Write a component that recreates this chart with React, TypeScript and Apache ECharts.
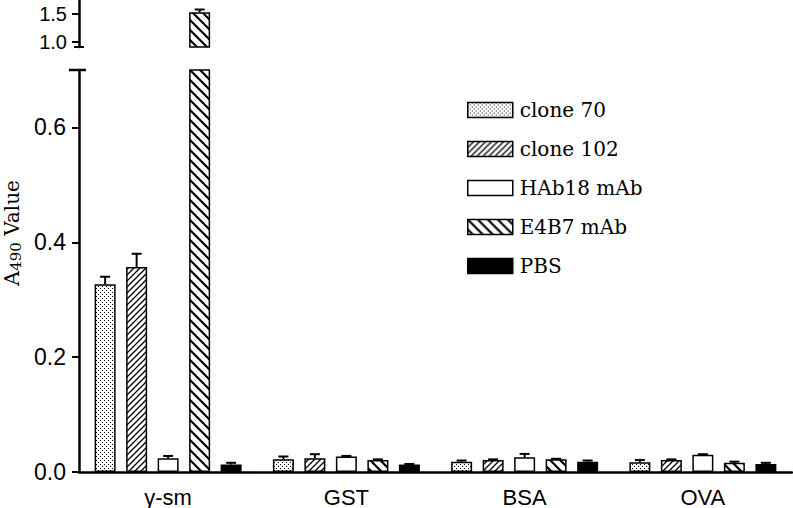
import React, { useEffect, useRef } from "react";
import * as echarts from "echarts";

const categories = ["γ-sm", "GST", "BSA", "OVA"];
const seriesNames = ["clone 70", "clone 102", "HAb18 mAb", "E4B7 mAb", "PBS"];
const clone70 = [0.327, 0.022, 0.018, 0.017];
const clone70Err = [0.013, 0.005, 0.002, 0.004];
const clone102 = [0.357, 0.024, 0.021, 0.021];
const clone102Err = [0.023, 0.007, 0.001, 0.001];
const hab18 = [0.024, 0.027, 0.0255, 0.03];
const hab18Err = [0.004, 0.001, 0.006, 0.001];
const e4b7 = [1.53, 0.021, 0.022, 0.016];
const e4b7Err = [0.05, 0.001, 0.001, 0.002];
const pbs = [0.013, 0.013, 0.018, 0.014];
const pbsErr = [0.003, 0.001, 0.002, 0.002];
const lowerTicks = [0, 0.2, 0.4, 0.6];
const upperTicks = [1.0, 1.5];

const means = [clone70, clone102, hab18, e4b7, pbs];
const errs = [clone70Err, clone102Err, hab18Err, e4b7Err, pbsErr];

const LOWER_MAX = 0.7;
const UPPER_MIN = 0.91;
const UPPER_MAX = 1.75;
const BAR_W = 21;
const BAR_STEP = BAR_W * 1.5;
const GRID_LEFT = 79;
const LOWER_TOP = 70;
const UPPER_H = 47;

function makePattern(kind: string): any {
  const c = document.createElement("canvas");
  const ctx = c.getContext("2d")!;
  if (kind === "dots") {
    c.width = 4;
    c.height = 4;
    ctx.fillStyle = "#fff";
    ctx.fillRect(0, 0, 4, 4);
    ctx.fillStyle = "#000";
    ctx.fillRect(0, 0, 1, 1);
    ctx.fillRect(2, 2, 1, 1);
  } else if (kind === "fwd") {
    const s = 6;
    c.width = s;
    c.height = s;
    ctx.fillStyle = "#fff";
    ctx.fillRect(0, 0, s, s);
    ctx.strokeStyle = "#000";
    ctx.lineWidth = 1.3;
    ctx.beginPath();
    ctx.moveTo(-1, s + 1);
    ctx.lineTo(s + 1, -1);
    ctx.moveTo(-1, 1);
    ctx.lineTo(1, -1);
    ctx.moveTo(s - 1, s + 1);
    ctx.lineTo(s + 1, s - 1);
    ctx.stroke();
  } else {
    const s = 10;
    c.width = s;
    c.height = s;
    ctx.fillStyle = "#fff";
    ctx.fillRect(0, 0, s, s);
    ctx.strokeStyle = "#000";
    ctx.lineWidth = 2.2;
    ctx.beginPath();
    ctx.moveTo(-1, -1);
    ctx.lineTo(s + 1, s + 1);
    ctx.moveTo(-1, s - 1);
    ctx.lineTo(1, s + 1);
    ctx.moveTo(s - 1, -1);
    ctx.lineTo(s + 1, 1);
    ctx.stroke();
  }
  return { image: c, repeat: "repeat" };
}

export default function App() {
  const ref = useRef<HTMLDivElement>(null);
  useEffect(() => {
    document.body.style.margin = "0";
    const chart = echarts.init(ref.current!, null, { renderer: "svg" });
    const fills = [
      makePattern("dots"),
      makePattern("fwd"),
      "#ffffff",
      makePattern("back"),
      "#000000",
    ];
    const barSeries: any[] = [];
    seriesNames.forEach((name, i) => {
      const common = {
        name,
        type: "bar",
        barWidth: BAR_W,
        barGap: "50%",
        itemStyle: { color: fills[i], borderColor: "#000", borderWidth: 1.5 },
        emphasis: { disabled: true },
      };
      barSeries.push({ ...common, xAxisIndex: 0, yAxisIndex: 0, data: means[i] });
      barSeries.push({
        ...common,
        xAxisIndex: 1,
        yAxisIndex: 1,
        data: means[i].map((v) => (v >= UPPER_MIN ? v : "-")),
      });
    });
    const errLower: any[] = [];
    const errUpper: any[] = [];
    means.forEach((arr, si) => {
      arr.forEach((m, ci) => {
        const row = [ci, si, m, m + errs[si][ci]];
        if (m <= LOWER_MAX) errLower.push(row);
        else errUpper.push(row);
      });
    });
    const renderErr = (params: any, api: any) => {
      const ci = api.value(0);
      const si = api.value(1);
      const p0 = api.coord([ci, api.value(2)]);
      const p1 = api.coord([ci, api.value(3)]);
      const x = p0[0] + (si - 2) * BAR_STEP;
      const st = { stroke: "#000", lineWidth: 2 };
      return {
        type: "group",
        children: [
          { type: "line", shape: { x1: x, y1: p0[1], x2: x, y2: p1[1] }, style: st },
          { type: "line", shape: { x1: x - 5, y1: p1[1], x2: x + 5, y2: p1[1] }, style: st },
        ],
      };
    };
    const labelFont = { fontFamily: "Liberation Sans", fontSize: 23, color: "#000" };
    const serif = "DejaVu Serif";
    chart.setOption({
      animation: false,
      backgroundColor: "#fff",
      grid: [
        { left: GRID_LEFT, right: 1, top: LOWER_TOP, bottom: 36 },
        { left: GRID_LEFT, right: 1, top: 0, height: UPPER_H },
      ],
      legend: {
        orient: "vertical",
        left: 462,
        top: 95,
        icon: "rect",
        itemWidth: 45,
        itemHeight: 15,
        itemGap: 19,
        selectedMode: false,
        textStyle: { fontFamily: serif, fontSize: 20, color: "#000", padding: [0, 0, 0, 2] },
        data: seriesNames.map((n) => ({
          name: n,
          itemStyle: { borderColor: "#000", borderWidth: 1.5 },
        })),
      },
      xAxis: [
        {
          type: "category",
          gridIndex: 0,
          data: categories,
          axisLine: { lineStyle: { color: "#000", width: 2.5 } },
          axisTick: { alignWithLabel: true, length: 8, lineStyle: { color: "#000", width: 2 } },
          axisLabel: { ...labelFont, fontSize: 22, margin: 14 },
        },
        { type: "category", gridIndex: 1, data: categories, show: false },
      ],
      yAxis: [
        {
          type: "value",
          gridIndex: 0,
          min: 0,
          max: LOWER_MAX,
          splitLine: { show: false },
          axisLine: { show: true, lineStyle: { color: "#000", width: 2.5 } },
          axisTick: { show: true, length: 7, customValues: lowerTicks, lineStyle: { color: "#000", width: 2 } },
          axisLabel: {
            ...labelFont,
            margin: 13,
            customValues: lowerTicks,
            formatter: (v: number) => v.toFixed(1),
          },
        },
        {
          type: "value",
          gridIndex: 1,
          min: UPPER_MIN,
          max: UPPER_MAX,
          splitLine: { show: false },
          axisLine: { show: true, lineStyle: { color: "#000", width: 2.5 } },
          axisTick: { show: true, length: 7, customValues: upperTicks, lineStyle: { color: "#000", width: 2 } },
          axisLabel: {
            ...labelFont,
            fontSize: 20,
            margin: 12,
            customValues: upperTicks,
            formatter: (v: number) => v.toFixed(1),
          },
        },
      ],
      graphic: [
        {
          type: "line",
          shape: { x1: GRID_LEFT - 5, y1: UPPER_H, x2: GRID_LEFT + 5, y2: UPPER_H },
          style: { stroke: "#000", lineWidth: 2 },
        },
        {
          type: "line",
          shape: { x1: GRID_LEFT - 10, y1: LOWER_TOP, x2: GRID_LEFT + 7, y2: LOWER_TOP },
          style: { stroke: "#000", lineWidth: 2.5 },
        },
        {
          type: "text",
          x: 12,
          y: 233,
          rotation: Math.PI / 2,
          style: {
            text: "{a|A}{s|490}{b| Value}",
            align: "center",
            verticalAlign: "middle",
            rich: {
              a: { fontFamily: serif, fontSize: 21, fill: "#000", color: "#000" },
              s: { fontFamily: serif, fontSize: 15, fill: "#000", color: "#000", padding: [8, 0, 0, 0] },
              b: { fontFamily: serif, fontSize: 20, fill: "#000", color: "#000" },
            },
          },
        },
      ],
      series: [
        ...barSeries,
        { type: "custom", xAxisIndex: 0, yAxisIndex: 0, data: errLower, renderItem: renderErr, encode: { x: 0, y: 2 }, z: 5, silent: true },
        { type: "custom", xAxisIndex: 1, yAxisIndex: 1, data: errUpper, renderItem: renderErr, encode: { x: 0, y: 2 }, z: 5, silent: true },
      ],
    });
    return () => chart.dispose();
  }, []);
  return <div ref={ref} style={{ width: 793, height: 508 }} />;
}
